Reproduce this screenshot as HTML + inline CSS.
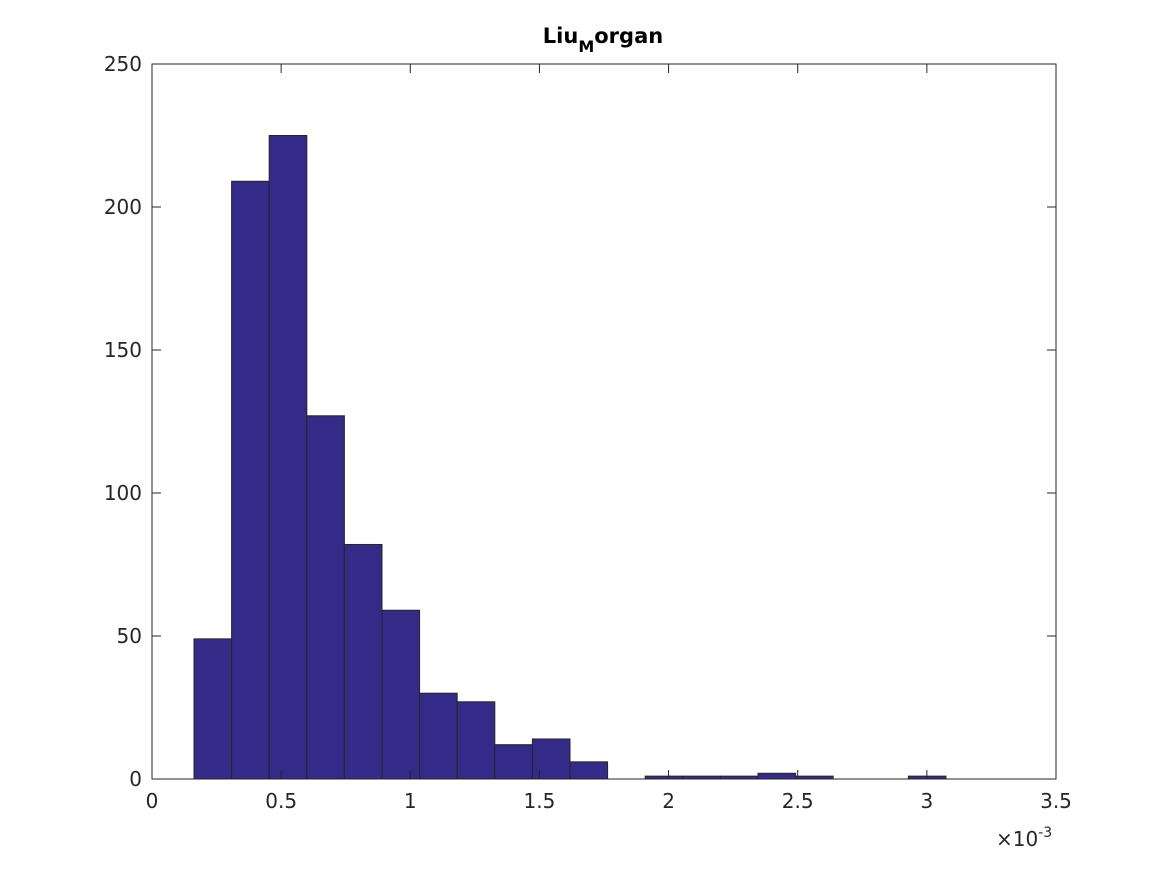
<!DOCTYPE html>
<html><head><meta charset="utf-8"><style>
body{margin:0;background:#fff;}
svg text{font-family:"DejaVu Sans","Liberation Sans",sans-serif;fill:#262626;}
</style></head><body>
<svg id="chart" width="1167" height="875" xmlns="http://www.w3.org/2000/svg">
<rect width="1167" height="875" fill="#fff"/>
<text x="603" y="43" text-anchor="middle" font-weight="bold" font-size="21" style="fill:#000">Liu<tspan font-size="16" dy="9">M</tspan><tspan dy="-9">organ</tspan></text>
<g id="bars"></g>
<g id="axes"></g>
</svg>
<script>
const binStart = 0.1626;
const binWidth = 0.14557;
const counts = [49,209,225,127,82,59,30,27,12,14,6,0,1,1,1,2,1,0,0,1];
const xTicks = [0,0.5,1,1.5,2,2.5,3,3.5];
const xTickLabels = ["0","0.5","1","1.5","2","2.5","3","3.5"];
const yTicks = [0,50,100,150,200,250];
const yTickLabels = ["0","50","100","150","200","250"];

const L=152,R=1056,T=64,B=779;
const X=v=>L+(v/3.5)*(R-L);
const Y=v=>B-(v/250)*(B-T);
const NS="http://www.w3.org/2000/svg";
function mk(tag,attrs,parent){const e=document.createElementNS(NS,tag);for(const k in attrs)e.setAttribute(k,attrs[k]);parent.appendChild(e);return e;}
const bars=document.getElementById('bars'),axes=document.getElementById('axes');
counts.forEach((c,i)=>{
  const x0=X(binStart+i*binWidth),x1=X(binStart+(i+1)*binWidth);
  const r=mk('rect',{x:x0,y:Y(c),width:x1-x0,height:B-Y(c),fill:'#352a87',stroke:'#262626','stroke-width':1},bars);
  
  
});
const box=mk('rect',{x:L,y:T,width:R-L,height:B-T,fill:'none',stroke:'#262626','stroke-width':1},axes);


xTicks.forEach((v,i)=>{
  const x=X(v);
  mk('line',{x1:x,x2:x,y1:B,y2:B-9,stroke:'#262626'},axes);
  mk('line',{x1:x,x2:x,y1:T,y2:T+9,stroke:'#262626'},axes);
  const t=mk('text',{x:x,y:B+29,'text-anchor':'middle','font-size':20},axes);
  t.textContent=xTickLabels[i];
  
  
});
yTicks.forEach((v,i)=>{
  const y=Y(v);
  mk('line',{x1:L,x2:L+9,y1:y,y2:y,stroke:'#262626'},axes);
  mk('line',{x1:R,x2:R-9,y1:y,y2:y,stroke:'#262626'},axes);
  const t=mk('text',{x:L-10,y:y+7,'text-anchor':'end','font-size':20},axes);
  t.textContent=yTickLabels[i];
  
  
});
const ex=mk('text',{x:996,y:846,'font-size':20},axes);
ex.innerHTML='×10<tspan font-size="14" dy="-9">-3</tspan>';


</script>
</body></html>
